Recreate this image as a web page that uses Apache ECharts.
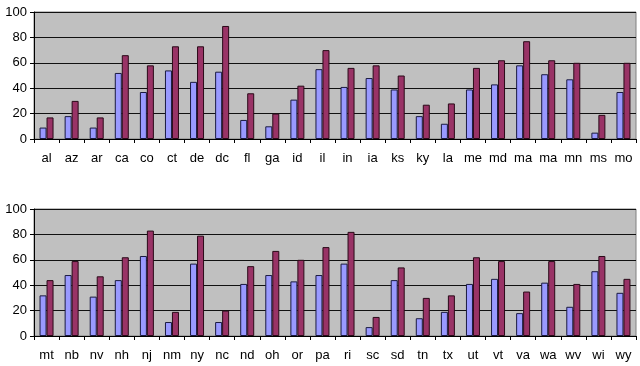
<!DOCTYPE html>
<html><head><meta charset="utf-8">
<script src="https://cdn.jsdelivr.net/npm/echarts@6/dist/echarts.min.js"></script>
<style>html,body{margin:0;padding:0;background:#fff}#c{width:640px;height:366px}</style>
</head><body><div id="c"></div>
<script>
var topCats = ['al','az','ar','ca','co','ct','de','dc','fl','ga','id','il','in','ia','ks','ky','la','me','md','ma','ma','mn','ms','mo'];
var topBlue = [9,18,9,52,37,54,45,53,15,10,31,55,41,48,39,18,12,39,43,58,51,47,5,37];
var topRed = [17,30,17,66,58,73,73,89,36,20,42,70,56,58,50,27,28,56,62,77,62,60,19,60];
var botCats = ['mt','nb','nv','nh','nj','nm','ny','nc','nd','oh','or','pa','ri','sc','sd','tn','tx','ut','vt','va','wa','wv','wi','wy'];
var botBlue = [32,48,31,44,63,11,57,11,41,48,43,48,57,7,44,14,19,41,45,18,42,23,51,34];
var botRed = [44,59,47,62,83,19,79,20,55,67,60,70,82,15,54,30,32,62,59,35,59,41,63,45];
var yTicks = [0,20,40,60,80,100];

var chart = echarts.init(document.getElementById('c'));
var font = 'Liberation Sans, Arial, sans-serif';
function xAxis(idx, cats){
  return {type:'category', gridIndex:idx, data:cats, boundaryGap:true,
    axisLine:{lineStyle:{color:'#000',width:1}},
    axisTick:{show:true, length:4, inside:false, lineStyle:{color:'#000'}},
    axisLabel:{color:'#000', fontFamily:font, fontSize:13, margin:13, interval:0}};
}
function yAxis(idx){
  return {type:'value', gridIndex:idx, min:yTicks[0], max:yTicks[yTicks.length-1], interval:20,
    axisLine:{show:true, lineStyle:{color:'#000'}},
    axisTick:{show:true, length:4, lineStyle:{color:'#000'}},
    axisLabel:{color:'#000', fontFamily:font, fontSize:13, margin:7},
    splitLine:{show:true, lineStyle:{color:'#111', width:1}}};
}
function bar(idx, data, color, border){
  return {type:'bar', xAxisIndex:idx, yAxisIndex:idx, data:data, barWidth:7, barGap:'0%', barCategoryGap:'42%',
    itemStyle:{color:color, borderColor:border, borderWidth:1}, animation:false};
}
chart.setOption({
  animation:false,
  grid:[
    {left:34, top:12, width:602, height:127, show:true, backgroundColor:'#C0C0C0', borderColor:'#808080', borderWidth:1},
    {left:34, top:209, width:602, height:127, show:true, backgroundColor:'#C0C0C0', borderColor:'#808080', borderWidth:1}
  ],
  xAxis:[xAxis(0, topCats), xAxis(1, botCats)],
  yAxis:[yAxis(0), yAxis(1)],
  series:[
    bar(0, topBlue, '#9999FF', '#1a1a40'),
    bar(0, topRed, '#993366', '#2a0a18'),
    bar(1, botBlue, '#9999FF', '#1a1a40'),
    bar(1, botRed, '#993366', '#2a0a18')
  ]
});
</script></body></html>
